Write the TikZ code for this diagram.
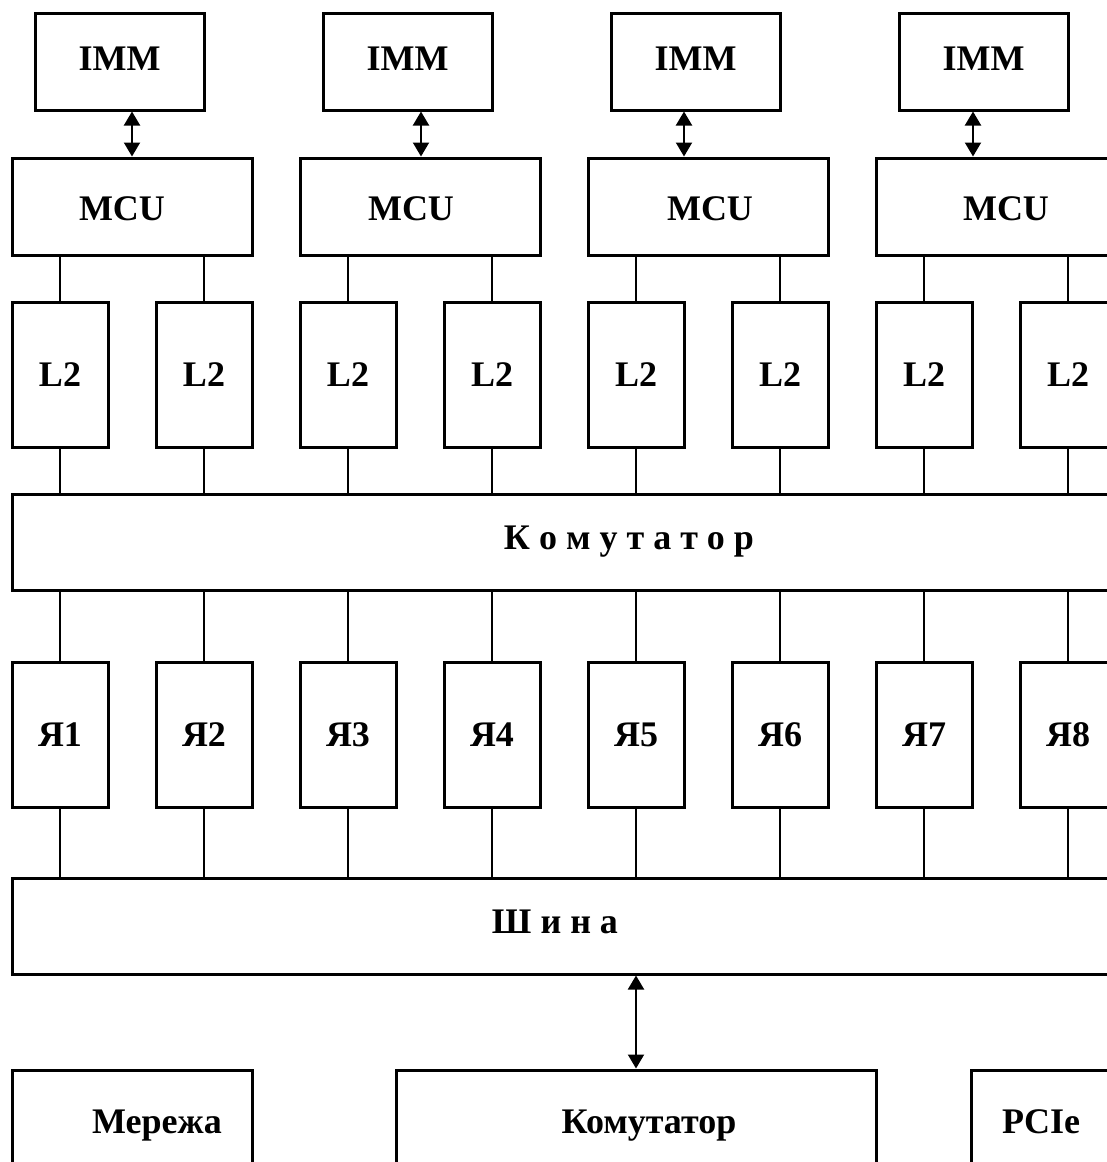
\documentclass[tikz,border=0pt]{standalone}
\usepackage{fontspec}
\setmainfont{Liberation Serif}
\usetikzlibrary{arrows.meta, positioning}

\begin{document}
\begin{tikzpicture}[
  x=1pt, y=-1pt,
  lbl/.style={font=\fontsize{36}{42}\selectfont\bfseries, inner sep=0pt},
  membox/.style={rectangle, draw, line width=3pt, minimum width=169pt,
    minimum height=97pt, lbl},
  ctrlbox/.style={rectangle, draw, line width=3pt, minimum width=240pt,
    minimum height=97pt, lbl},
  cellbox/.style={rectangle, draw, line width=3pt, minimum width=96pt,
    minimum height=145pt, lbl},
  busbox/.style={rectangle, draw, line width=3pt, minimum height=96pt},
  wire/.style={line width=1.7pt},
  arr/.style={{Triangle[length=14pt,width=16pt]}-{Triangle[length=14pt,width=16pt]},
    line width=2pt},
]
  \useasboundingbox (0,0) rectangle (1107,1162);
  \clip (0,0) rectangle (1107,1162);

  % Memory controllers and modules
  \foreach \k/\dx/\tx in {1/0/-10,2/1/-9,3/-24/2,4/-23/10} {
    \node[ctrlbox] (mcu\k) at ({132+288*(\k-1)},206.5) {};
    \node[lbl] (mculbl\k) at ([xshift=\tx pt, yshift=-2pt]mcu\k.center) {MCU};
    \node[membox] (imm\k) at ({119.5+288*(\k-1)},61.5) {};
    \node[lbl] (immlbl\k) at ([yshift=3pt]imm\k.center) {IMM};
    \path ([xshift=\dx pt]mcu\k.north) coordinate (port\k);
    \draw[arr] (port\k |- imm\k.south) -- (port\k);
  }

  % Caches and cores
  \foreach \j in {1,...,8} {
    \node[cellbox] (cache\j) at ({60+144*(\j-1)},374.5) {L2};
    \node[cellbox] (core\j) at ({60+144*(\j-1)},735) {Я\j};
  }

  % Switch and bus
  \node[busbox, minimum width=1118pt] (sw) at (571,542) {};
  \node[lbl, anchor=base] (swlbl) at (629,549) {К о м у т а т о р};
  \node[busbox, minimum width=1118pt] (bus) at (571,926) {};
  \node[lbl, anchor=base] (buslbl) at (555,933) {Ш и н а};

  \foreach \j/\k in {1/1,2/1,3/2,4/2,5/3,6/3,7/4,8/4} {
    \draw[wire] (mcu\k.south -| cache\j) -- (cache\j.north);
    \draw[wire] (cache\j.south) -- (cache\j.south |- sw.north);
    \draw[wire] (core\j.north |- sw.south) -- (core\j.north);
    \draw[wire] (core\j.south) -- (core\j.south |- bus.north);
  }

  % Peripherals
  \node[busbox, minimum width=240pt, minimum height=130pt] (net) at (132,1135) {};
  \node[lbl, anchor=base] (netlbl) at (157,1133) {Мережа};
  \node[busbox, minimum width=480pt, minimum height=130pt] (xbar) at (636,1135) {};
  \node[lbl, anchor=base] (xbarlbl) at (649,1133) {Комутатор};
  \node[busbox, minimum width=159pt, minimum height=130pt] (pcie) at (1050.5,1135) {};
  \node[lbl, anchor=base] (pcielbl) at (1041,1133) {PCIe};

  \draw[arr] (bus.south -| xbar) -- (xbar.north);
\end{tikzpicture}
\end{document}
